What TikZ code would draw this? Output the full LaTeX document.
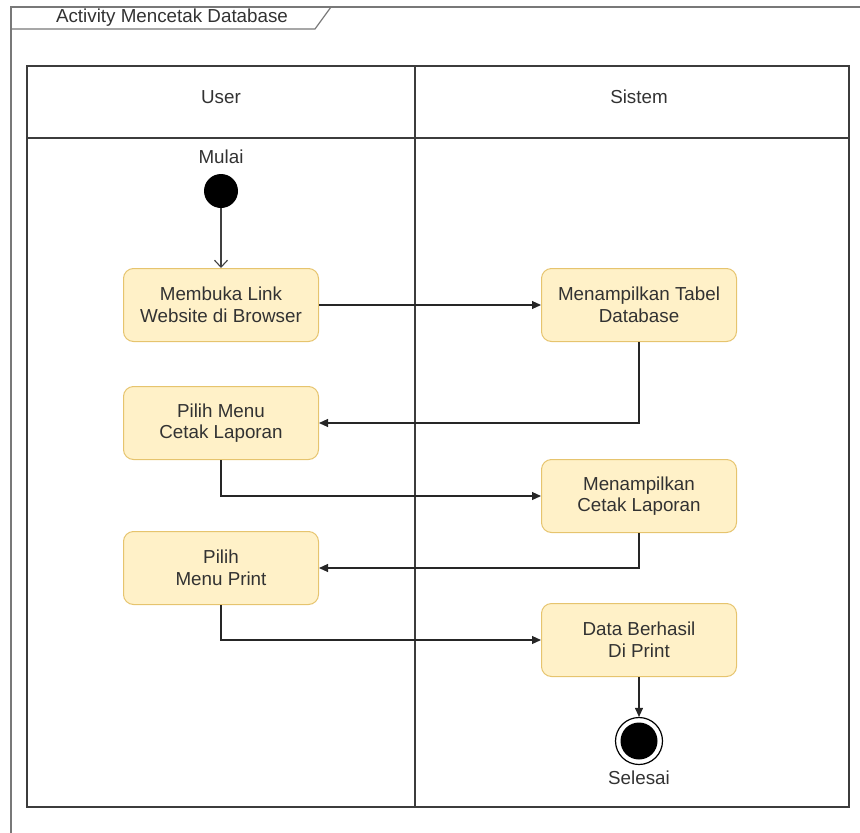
\documentclass[tikz,border=0pt]{standalone}
\usepackage{fontspec}
\setmainfont{Liberation Sans}
\usetikzlibrary{arrows.meta,positioning,calc}
\definecolor{actfill}{RGB}{255,241,200}
\definecolor{actline}{RGB}{230,196,110}
\definecolor{framegray}{RGB}{120,120,120}
\definecolor{lanegray}{RGB}{60,60,60}
\definecolor{txtgray}{RGB}{50,50,50}

\begin{document}
\begin{tikzpicture}[x=1pt, y=-1pt,
  act/.style={draw=actline, fill=actfill, line width=1pt, rounded corners=10pt,
    minimum width=195pt, minimum height=73pt, align=center,
    font=\fontsize{18.8}{21.5}\selectfont, text=txtgray},
  lbl/.style={font=\fontsize{18.8}{21.5}\selectfont, text=txtgray},
  flow/.style={-{Triangle[length=9pt,width=8pt]}, line width=1.1pt, black!85}]
\useasboundingbox (0,0) rectangle (860,833);
\draw[framegray, line width=1.2pt] (11,833) -- (11,7) -- (860,7);
\draw[framegray, line width=1.2pt] (11,29) -- (315,29) -- (331,7);
\node[lbl, anchor=center] (title) at (172,18) {Activity Mencetak Database};
\draw[lanegray, line width=1.5pt] (27,66) rectangle (849,807);
\draw[lanegray, line width=1.5pt] (27,138) -- (849,138);
\draw[lanegray, line width=1.5pt] (415,66) -- (415,807);
\node[lbl] (user) at (221,97) {User};
\node[lbl] (sistem) at (639,97) {Sistem};
\node[lbl] (mulaiTxt) at (221,157) {Mulai};
\node[circle, fill=black, minimum size=34pt, inner sep=0pt] (mulai) at (221,191) {};
\node[act] (buka) at (221,305) {Membuka Link\\Website di Browser};
\node[act] (tabel) at (639,305) {Menampilkan Tabel\\Database};
\node[act] (pilihCetak) at (221,423) {Pilih Menu\\Cetak Laporan};
\node[act] (tampilCetak) at (639,496) {Menampilkan\\Cetak Laporan};
\node[act] (pilihPrint) at (221,568) {Pilih\\Menu Print};
\node[act] (berhasil) at (639,640) {Data Berhasil\\Di Print};
\node[circle, draw=black, line width=1.2pt, minimum size=47pt, inner sep=0pt]
  (selesai) at (639,741) {};
\node[circle, fill=black, minimum size=37pt, inner sep=0pt] (selesaiDot) at (selesai) {};
\node[lbl] (selesaiTxt) at (639,778) {Selesai};
\draw[-{Straight Barb[length=7pt,width=13pt]}, line width=1.1pt, black!75]
  (mulai) -- (buka);
\draw[flow] (buka) -- (tabel);
\draw[flow] (tabel.south) |- (pilihCetak.east);
\draw[flow] (pilihCetak.south) |- (tampilCetak.west);
\draw[flow] (tampilCetak.south) |- (pilihPrint.east);
\draw[flow] (pilihPrint.south) |- (berhasil.west);
\draw[flow] (berhasil) -- (selesai);
\end{tikzpicture}
\end{document}
